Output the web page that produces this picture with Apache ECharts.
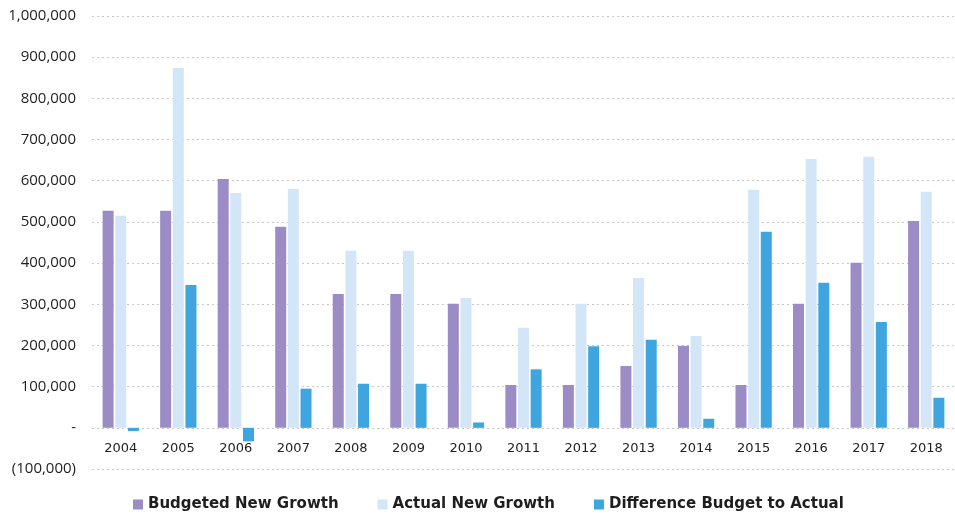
<!DOCTYPE html>
<html>
<head>
<meta charset="utf-8">
<script src="https://cdn.jsdelivr.net/npm/echarts@6/dist/echarts.min.js"></script>
<style>
  html, body { margin: 0; padding: 0; background: #ffffff; }
  #chart { width: 955px; height: 516px; }
</style>
</head>
<body>
<div id="chart"></div>
<script>
// Fiscal years along the x axis
const years = ['2004','2005','2006','2007','2008','2009','2010','2011','2012','2013','2014','2015','2016','2017','2018'];

// New growth figures per year
const budgetedNewGrowth = [527000, 527000, 604000, 488000, 325000, 325000, 301000, 104000, 104000, 150000, 199000, 104000, 301000, 401000, 502000];
const actualNewGrowth   = [515000, 874000, 570000, 580000, 430000, 430000, 315000, 243000, 301000, 364000, 223000, 578000, 653000, 658000, 573000];
const differenceBudgetToActual = [-8000, 347000, -33000, 95000, 107000, 107000, 13000, 142000, 198000, 214000, 22000, 476000, 352000, 257000, 73000];

const seriesNames = ['Budgeted New Growth', 'Actual New Growth', 'Difference Budget to Actual'];

// Value axis range and step
const axisMin = -100000;
const axisMax = 1000000;
const axisStep = 100000;

// Plot area geometry; the year labels sit just under the zero line
const gridTop = 16;
const gridHeight = 453;
const zeroOffset = -gridHeight * (0 - axisMin) / (axisMax - axisMin);

function formatAxisValue(v) {
  if (v === 0) return '-';
  const s = Math.abs(v).toString().replace(/\B(?=(\d{3})+(?!\d))/g, ',');
  return v < 0 ? '(' + s + ')' : s;
}

const chart = echarts.init(document.getElementById('chart'), null, { renderer: 'canvas' });

const barCommon = { type: 'bar', barWidth: 11, barGap: '15%' };
const gridLineStyle = { color: '#c8c8c8', type: [2, 3], width: 1 };

chart.setOption({
  animation: false,
  backgroundColor: '#ffffff',
  grid: { left: 92, top: gridTop, width: 875, height: gridHeight, containLabel: false },
  legend: {
    data: seriesNames,
    top: 492,
    left: 128,
    itemWidth: 10,
    itemHeight: 10,
    itemGap: 39,
    icon: 'rect',
    textStyle: { fontFamily: 'DejaVu Sans', fontSize: 15, fontWeight: 'bold', color: '#1e1e1e' }
  },
  xAxis: {
    type: 'category',
    data: years,
    position: 'bottom',
    offset: zeroOffset,
    axisLine: { show: false, onZero: false },
    axisTick: { show: false },
    axisLabel: { fontFamily: 'DejaVu Sans', fontSize: 13, color: '#222', margin: 14 }
  },
  yAxis: {
    type: 'value',
    min: axisMin,
    max: axisMax,
    interval: axisStep,
    axisLine: { show: false },
    axisTick: { show: false },
    axisLabel: { fontFamily: 'Open Sans', fontSize: 15, color: '#1e1e1e', margin: 16, formatter: formatAxisValue },
    splitLine: { lineStyle: gridLineStyle }
  },
  series: [
    Object.assign({}, barCommon, { name: seriesNames[0], data: budgetedNewGrowth, itemStyle: { color: '#9b8cc6' } }),
    Object.assign({}, barCommon, { name: seriesNames[1], data: actualNewGrowth, itemStyle: { color: '#d3e6f7' } }),
    Object.assign({}, barCommon, { name: seriesNames[2], data: differenceBudgetToActual, itemStyle: { color: '#3ea5df' } })
  ]
});
</script>
</body>
</html>
